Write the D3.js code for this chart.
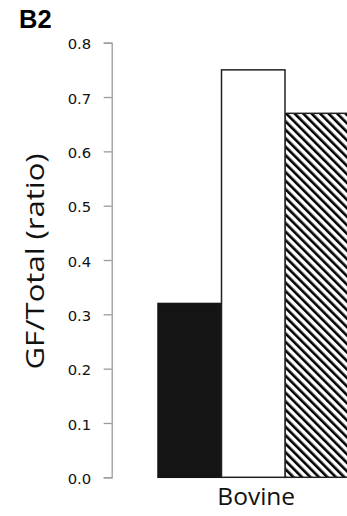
<!DOCTYPE html>
<html>
<head>
<meta charset="utf-8">
<script src="https://cdn.jsdelivr.net/npm/d3@7"></script>
<style>
  body { margin: 0; background: #fff; }
</style>
</head>
<body>
<div id="chart"></div>
<script>
// Data
const categories = ["Bovine"];
const series = ["black", "white", "hatched"];
const values = [0.32, 0.75, 0.67];
const yTicks = [0.0, 0.1, 0.2, 0.3, 0.4, 0.5, 0.6, 0.7, 0.8];

const margin = { top: 42.7, right: 0, bottom: 38.7, left: 111.7 };
const width = 347 - margin.left - margin.right;
const height = 516 - margin.top - margin.bottom;

const svg = d3.select("#chart")
  .append("svg")
  .attr("width", width + margin.left + margin.right)
  .attr("height", height + margin.top + margin.bottom);

// hatch pattern for the third bar (lines running down to the right)
const defs = svg.append("defs");
const pat = defs.append("pattern")
  .attr("id", "hatch")
  .attr("patternUnits", "userSpaceOnUse")
  .attr("width", 6)
  .attr("height", 6)
  .attr("patternTransform", "rotate(-45)");
pat.append("rect").attr("width", 6).attr("height", 6).attr("fill", "#fff");
pat.append("rect").attr("width", 2.6).attr("height", 6).attr("fill", "#000");

const g = svg.append("g")
  .attr("transform", `translate(${margin.left}, ${margin.top})`);

const y = d3.scaleLinear()
  .domain([0, 0.8])
  .range([height, 0]);

// outer band for category, inner band for the three series
const x0 = d3.scaleBand()
  .domain(categories)
  .range([46.3, 46.3 + 63.5 * 3]);

const x1 = d3.scaleBand()
  .domain(series)
  .range([0, x0.bandwidth()]);

const yAxis = d3.axisLeft(y)
  .tickValues(yTicks)
  .tickFormat(d3.format(".1f"))
  .tickSize(8)
  .tickPadding(12.5);

g.append("g")
  .call(yAxis)
  .call(a => a.selectAll("path, line").attr("stroke", "#9a9a9a").attr("stroke-width", 1.3))
  .call(a => a.selectAll("text")
    .attr("font-family", "DejaVu Sans")
    .attr("font-size", "14.8px")
    .attr("fill", "#111")
    .attr("dy", "0.42em"));

const fills = { black: "#141414", white: "#fff", hatched: "url(#hatch)" };

const bars = series.map((s, i) => ({ cat: categories[0], s: s, v: values[i] }));

// draw hatched first so the white bar's border sits on top
g.selectAll(".bar")
  .data([bars[2], bars[0], bars[1]])
  .enter()
  .append("rect")
  .attr("class", "bar")
  .attr("x", d => x0(d.cat) + x1(d.s))
  .attr("y", d => y(d.v))
  .attr("width", x1.bandwidth())
  .attr("height", d => y(0) - y(d.v))
  .attr("fill", d => fills[d.s])
  .attr("stroke", d => d.s === "black" ? "#141414" : "#222")
  .attr("stroke-width", 1.5);

// category label
g.selectAll(".cat")
  .data(categories)
  .enter()
  .append("text")
  .attr("class", "cat")
  .attr("x", d => x0(d) + x0.bandwidth() / 2 + 3)
  .attr("y", height + 27.5)
  .attr("text-anchor", "middle")
  .attr("font-family", "Open Sans")
  .attr("font-size", "24.5px")
  .attr("fill", "#111")
  .text(d => d);

// y axis title
svg.append("text")
  .attr("transform", "translate(44, 261.5) rotate(-90)")
  .attr("text-anchor", "middle")
  .attr("font-family", "Open Sans")
  .attr("font-size", "25px")
  .attr("textLength", 216)
  .attr("lengthAdjust", "spacingAndGlyphs")
  .attr("fill", "#111")
  .text("GF/Total (ratio)");

// panel label
svg.append("text")
  .attr("x", 19)
  .attr("y", 28)
  .attr("font-family", "Liberation Sans")
  .attr("font-weight", "bold")
  .attr("font-size", "25.5px")
  .attr("fill", "#000")
  .text("B2");
</script>
</body>
</html>
